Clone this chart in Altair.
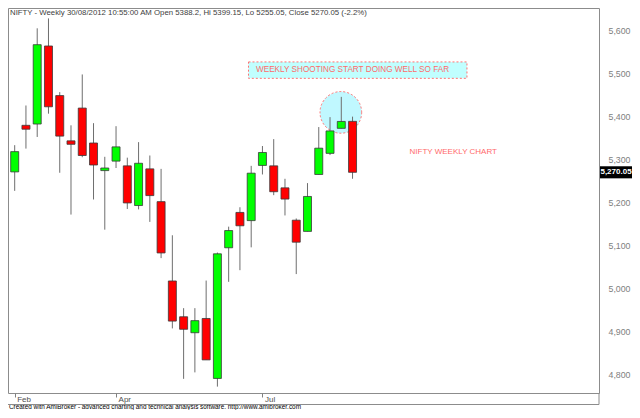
# NIFTY weekly candlestick chart (AmiBroker look) with Altair

import altair as alt
import pandas as pd

# Weekly bars, Feb -> Aug 2012 (one entry per week)
opens = [5271, 5379, 5382, 5563, 5448, 5343, 5419, 5338, 5274, 5296, 5285,
         5193, 5278, 5202, 5018, 4935, 4898, 4931, 4792, 5095, 5177, 5158,
         5286, 5285, 5234, 5159, 5133, 5265, 5314, 5372, 5388.2]
highs = [5333, 5425, 5604, 5627, 5456, 5379, 5497, 5384, 5306, 5377, 5304,
         5340, 5309, 5278, 5124, 4955, 4955, 5019, 5084, 5144, 5189, 5285,
         5331, 5347, 5255, 5163, 5245, 5375, 5398, 5445, 5399.15]
lows = [5227, 5325, 5352, 5406, 5269, 5172, 5305, 5207, 5137, 5280, 5185,
        5184, 5155, 5071, 4908, 4791, 4806, 4835, 4773, 5016, 5043, 5096,
        5265, 5217, 5170, 5034, 5133, 5265, 5310, 5372, 5255.05]
closes = [5318, 5370, 5566, 5422, 5354, 5335, 5309, 5287, 5280, 5329, 5199,
          5291, 5216, 5083, 4925, 4906, 4926, 4835, 5081, 5135, 5146, 5268,
          5316, 5225, 5208, 5108, 5214, 5326, 5366, 5388, 5270.05]

# Month labels on the time axis (bar index -> text)
tick_idx = [0, 9, 22]
tick_lbl = ['Feb', 'Apr', 'Jul']

y_ticks = [4800, 4900, 5000, 5100, 5200, 5300, 5400, 5500, 5600]

titulo = ('NIFTY - Weekly 30/08/2012 10:55:00 AM Open 5388.2, Hi 5399.15, '
          'Lo 5255.05, Close 5270.05 (-2.2%)')
rodape = ('Created with AmiBroker - advanced charting and technical analysis '
          'software. http://www.amibroker.com')

# Annotations (placed in bar index / price units)
caixa_txt = 'WEEKLY SHOOTING START DOING WELL SO FAR'
caixa_x = [20.76, 40.16]
caixa_y = [5488, 5526]
caixa_txt_x = 30.0
circulo_x = 28.96
circulo_y = 5409
nota_txt = 'NIFTY WEEKLY CHART'
nota_x = 35.06
nota_y = 5318
ultimo = 5270.05

FONTE = 'Liberation Sans, Arial, sans-serif'
W, H = 591, 385
PAD_R, PAD_B = 33, 17

df = pd.DataFrame({'i': range(len(opens)), 'open': opens, 'high': highs,
                   'low': lows, 'close': closes})
df['dir'] = ['up' if c >= o else 'down' for o, c in zip(opens, closes)]

label_expr = ' : '.join(f"datum.value == {i} ? '{t}'" for i, t in zip(tick_idx, tick_lbl)) + " : ''"

xs = alt.Scale(domain=[-0.15, 51.44], nice=False, zero=False)
ys = alt.Scale(domain=[4758.2, 5651.1], nice=False, zero=False)

x_axis = alt.Axis(values=tick_idx, labelExpr=label_expr, title=None, grid=False,
                  domain=False, tickSize=4, tickColor='#808080',
                  labelAlign='left', labelBaseline='top', labelPadding=-1.5,
                  labelFont=FONTE, labelFontSize=8, labelColor='#505050',
                  labelOffset=2, labelFlush=False, labelOverlap=False)
y_axis = alt.Axis(orient='right', values=y_ticks, format=',d', title=None,
                  grid=False, domain=False, ticks=False, labelPadding=9,
                  labelFont=FONTE, labelFontSize=8.8, labelColor='#808080')


def X(campo):
    return alt.X(campo, scale=xs, axis=x_axis)


def Y(campo):
    return alt.Y(campo, scale=ys, axis=y_axis)


base = alt.Chart(df)

# Annotation box with its text
caixa_df = pd.DataFrame({'x1': [caixa_x[0]], 'x2': [caixa_x[1]],
                         'y1': [caixa_y[0]], 'y2': [caixa_y[1]],
                         'tx': [caixa_txt_x], 'ty': [sum(caixa_y) / 2],
                         't': [caixa_txt]})
caixa = alt.Chart(caixa_df).mark_rect(
    fill='#c0ffff', stroke='#ff7070', strokeDash=[2, 2], strokeWidth=1
).encode(x=X('x1:Q'), x2='x2:Q', y=Y('y1:Q'), y2='y2:Q')
caixa_texto = alt.Chart(caixa_df).mark_text(
    font=FONTE, fontSize=8.2, color='#ff6a6a', align='center', baseline='middle'
).encode(x=X('tx:Q'), y=Y('ty:Q'), text='t:N')

# Circle around the shooting-star candle
circ_df = pd.DataFrame({'x': [circulo_x], 'y': [circulo_y]})
circulo = alt.Chart(circ_df).mark_point(
    shape='circle', filled=True, size=1735, fill='#c0f8ff', opacity=1,
    stroke='#ff7070', strokeDash=[2, 2], strokeWidth=1
).encode(x=X('x:Q'), y=Y('y:Q'))

# Candles: wick then body
pavio = base.mark_rule(color='#6e6e6e', strokeWidth=1).encode(
    x=X('i:Q'), y=Y('low:Q'), y2='high:Q')
corpo = base.mark_bar(width=8, stroke='#3a3a3a', strokeWidth=0.8).encode(
    x=X('i:Q'), y=Y('open:Q'), y2='close:Q',
    color=alt.Color('dir:N', scale=alt.Scale(domain=['up', 'down'],
                                             range=['#00ff00', '#ff0000']),
                    legend=None))

nota_df = pd.DataFrame({'x': [nota_x], 'y': [nota_y], 't': [nota_txt]})
nota = alt.Chart(nota_df).mark_text(
    font=FONTE, fontSize=8, color='#ff6a6a', align='left', baseline='middle'
).encode(x=X('x:Q'), y=Y('y:Q'), text='t:N')

# Last price tag on the price axis
tag_df = pd.DataFrame({'y': [ultimo], 'y1': [ultimo + 14], 'y2': [ultimo - 14],
                       't': [f'{ultimo:,.2f}']})
tag = alt.Chart(tag_df).mark_rect(color='black').encode(
    x=alt.value(W + 1), x2=alt.value(W + PAD_R), y=Y('y1:Q'), y2='y2:Q')
tag_texto = alt.Chart(tag_df).mark_text(
    font=FONTE, fontSize=8, fontWeight='bold', color='white', align='center',
    baseline='middle'
).encode(x=alt.value(W + 1 + (PAD_R - 1) / 2), y=Y('y:Q'), text='t:N')

# Header and footer texts
cab = alt.Chart(pd.DataFrame({'t': [titulo]})).mark_text(
    font=FONTE, fontSize=7.8, color='#404040', align='left', baseline='top'
).encode(x=alt.value(2), y=alt.value(1), text='t:N')
rod = alt.Chart(pd.DataFrame({'t': [rodape]})).mark_text(
    font=FONTE, fontSize=6.4, color='black', align='left', baseline='alphabetic'
).encode(x=alt.value(1), y=alt.value(H + 16.2), text='t:N')

# Box around the date strip
linha_h = alt.Chart(pd.DataFrame({'a': [0]})).mark_rule(color='#8c8c8c').encode(
    x=alt.value(0), x2=alt.value(W), y=alt.value(H + 11.5))
linha_v = alt.Chart(pd.DataFrame({'a': [0]})).mark_rule(color='#8c8c8c').encode(
    x=alt.value(W), y=alt.value(H), y2=alt.value(H + 11.5))

chart = alt.layer(
    caixa, caixa_texto, circulo, pavio, corpo, nota, tag, tag_texto, cab, rod,
    linha_h, linha_v
).properties(
    width=W, height=H,
    autosize=alt.AutoSizeParams(type='none'),
    padding={'left': 0, 'top': 0, 'right': PAD_R, 'bottom': PAD_B},
    background='white'
).configure_view(stroke='#8c8c8c', strokeWidth=1)

chart.save('out.html', embed_options={'renderer': 'svg', 'actions': False})
